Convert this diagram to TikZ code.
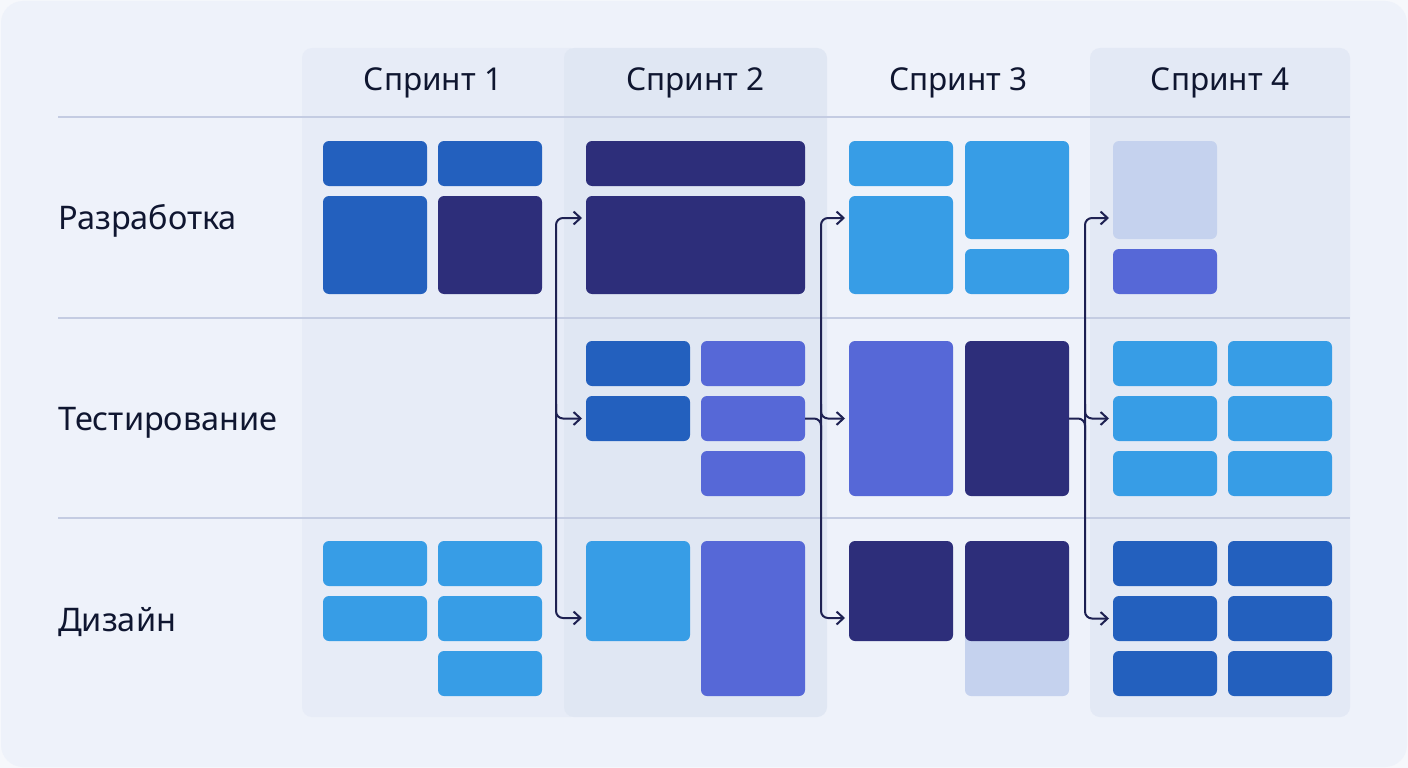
\documentclass[tikz,border=0pt]{standalone}
\usepackage{fontspec}
\setmainfont{Noto Sans}
\usetikzlibrary{arrows.meta}
\definecolor{outerc}{HTML}{F6F8FC}
\definecolor{bgc}{HTML}{EEF2FA}
\definecolor{panA}{HTML}{E7ECF7}
\definecolor{panB}{HTML}{E0E7F3}
\definecolor{panD}{HTML}{E3E9F5}
\definecolor{rulec}{HTML}{C4CCE2}
\definecolor{txtc}{HTML}{0F1630}
\definecolor{linec}{HTML}{1E2152}
\definecolor{midblue}{HTML}{2360BE}
\definecolor{navy}{HTML}{2D2E7A}
\definecolor{lightblue}{HTML}{379DE6}
\definecolor{violet}{HTML}{5668D7}
\definecolor{pale}{HTML}{C5D2EE}
\newcommand\crd[6]{\node[card,fill=#6,minimum width={(#4-#2)*1pt},minimum height={(#5-#3)*1pt}] (#1) at ({(#2+#4)/2},{(#3+#5)/2}) {};}
\begin{document}
\begin{tikzpicture}[x=1pt,y=-1pt,
  card/.style={rounded corners=6pt,inner sep=0pt,outer sep=0pt,draw=none},
  conn/.style={draw=linec,line width=2pt,rounded corners=7pt},
  arr/.style={conn,-{Straight Barb[length=7pt,width=13pt]}},
  head/.style={text=txtc,font=\fontsize{31.5}{37}\selectfont,anchor=base,inner sep=0pt},
  rowlab/.style={text=txtc,font=\fontsize{32.5}{38}\selectfont,anchor=base west,inner sep=0pt}]
\useasboundingbox (0,0) rectangle (1408,768);
\fill[outerc] (0,0) rectangle (1408,768);
\fill[bgc,rounded corners=22pt] (1,1) rectangle (1407,767);
% sprint panels
\fill[panA,rounded corners=10pt] (302,48) rectangle (580,717);
\fill[panB,rounded corners=10pt] (564,48) rectangle (827,717);
\fill[panD,rounded corners=10pt] (1090,48) rectangle (1350,717);
% rules
\foreach \yy in {117,318,518} \draw[rulec,line width=1.4pt] (58,\yy) -- (1350,\yy);
% headers
\node[head] (h1) at (433,91) {Спринт 1};
\node[head] (h2) at (695.5,91) {Спринт 2};
\node[head] (h3) at (958.5,91) {Спринт 3};
\node[head] (h4) at (1220,91) {Спринт 4};
% row labels
\node[rowlab] (r1) at (58,229) {Разработка};
\node[rowlab] (r2) at (58,430) {Тестирование};
\node[rowlab] (r3) at (58,631) {Дизайн};
% development row
\crd{da1}{323}{141}{427}{186}{midblue}
\crd{da2}{438}{141}{542}{186}{midblue}
\crd{da3}{323}{196}{427}{294}{midblue}
\crd{da4}{438}{196}{542}{294}{navy}
\crd{db1}{586}{141}{805}{186}{navy}
\crd{db2}{586}{196}{805}{294}{navy}
\crd{dc1}{849}{141}{953}{186}{lightblue}
\crd{dc2}{849}{196}{953}{294}{lightblue}
\crd{dc3}{965}{141}{1069}{239}{lightblue}
\crd{dc4}{965}{249}{1069}{294}{lightblue}
\crd{dd1}{1113}{141}{1217}{239}{pale}
\crd{dd2}{1113}{249}{1217}{294}{violet}
% testing row
\crd{tb1}{586}{341}{690}{386}{midblue}
\crd{tb2}{586}{396}{690}{441}{midblue}
\crd{tb3}{701}{341}{805}{386}{violet}
\crd{tb4}{701}{396}{805}{441}{violet}
\crd{tb5}{701}{451}{805}{496}{violet}
\crd{tc1}{849}{341}{953}{496}{violet}
\crd{tc2}{965}{341}{1069}{496}{navy}
\crd{td1}{1113}{341}{1217}{386}{lightblue}
\crd{td2}{1228}{341}{1332}{386}{lightblue}
\crd{td3}{1113}{396}{1217}{441}{lightblue}
\crd{td4}{1228}{396}{1332}{441}{lightblue}
\crd{td5}{1113}{451}{1217}{496}{lightblue}
\crd{td6}{1228}{451}{1332}{496}{lightblue}
% design row
\crd{ga1}{323}{541}{427}{586}{lightblue}
\crd{ga2}{323}{596}{427}{641}{lightblue}
\crd{ga3}{438}{541}{542}{586}{lightblue}
\crd{ga4}{438}{596}{542}{641}{lightblue}
\crd{ga5}{438}{651}{542}{696}{lightblue}
\crd{gb1}{586}{541}{690}{641}{lightblue}
\crd{gb2}{701}{541}{805}{696}{violet}
\crd{gc3}{965}{625}{1069}{696}{pale}
\crd{gc1}{849}{541}{953}{641}{navy}
\crd{gc2}{965}{541}{1069}{641}{navy}
\crd{gd1}{1113}{541}{1217}{586}{midblue}
\crd{gd2}{1228}{541}{1332}{586}{midblue}
\crd{gd3}{1113}{596}{1217}{641}{midblue}
\crd{gd4}{1228}{596}{1332}{641}{midblue}
\crd{gd5}{1113}{651}{1217}{696}{midblue}
\crd{gd6}{1228}{651}{1332}{696}{midblue}
% arrow targets
\coordinate (tA1) at (582,218);
\coordinate (tA3) at (582,618);
\coordinate (tB1) at (845,218);
\coordinate (tB3) at (845,618);
\coordinate (tC1) at (1109,218);
% spine A
\draw[arr] (556,418) |- (tA1);
\draw[arr] (556,418) |- (tA3);
\draw[arr,shorten >=4pt] (556,404) |- (tb2.west);
% spine B
\draw[conn] (tb4.east) -| (821,440);
\draw[arr] (821,418) |- (tB1);
\draw[arr] (821,418) |- (tB3);
\draw[arr,shorten >=4pt] (821,404) |- (tc1.west);
% spine C
\draw[conn] (tc2.east) -| (1085,440);
\draw[arr] (1085,418) |- (tC1);
\draw[arr,shorten >=4pt] (1085,418) |- (gd3.west);
\draw[arr,shorten >=4pt] (1085,404) |- (td3.west);
\end{tikzpicture}
\end{document}
